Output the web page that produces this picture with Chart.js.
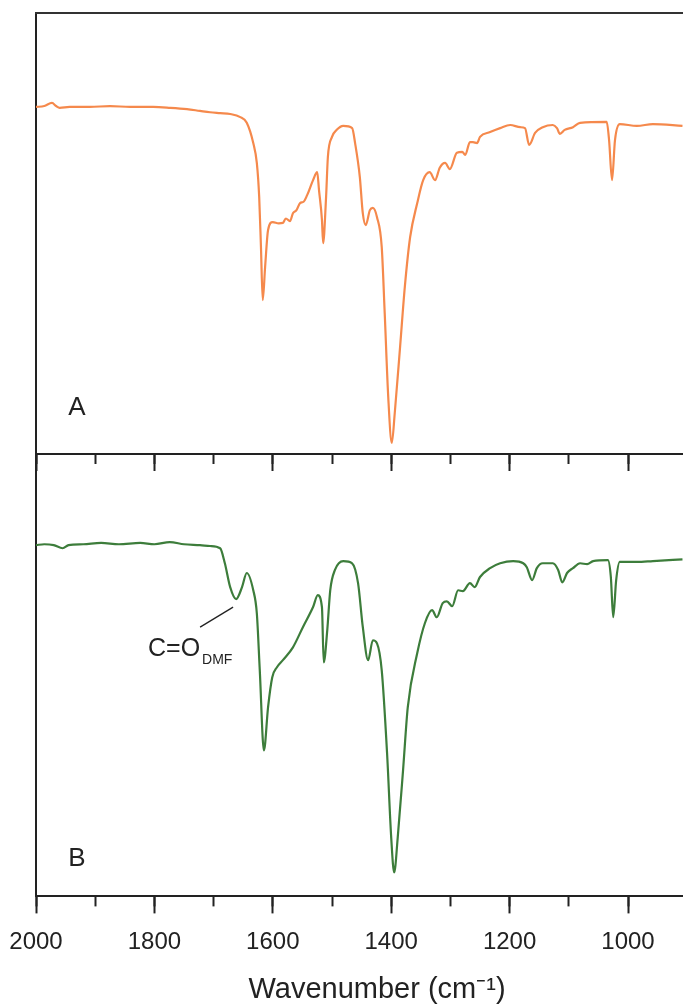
<!DOCTYPE html>
<html>
<head>
<meta charset="utf-8">
<script src="https://cdn.jsdelivr.net/npm/chart.js@4.4.1/dist/chart.umd.min.js"></script>
<style>
  html, body { margin: 0; padding: 0; background: #fff; }
  #wrap { position: relative; width: 683px; height: 1007px; overflow: hidden; }
  canvas { position: absolute; left: 0; }
  #specA { top: 0; }
  #specB { top: 441px; }
</style>
</head>
<body>
<div id="wrap">
  <canvas id="specB" width="720" height="566"></canvas>
  <canvas id="specA" width="720" height="480"></canvas>
</div>
<script>
// IR spectra, relative transmittance (arbitrary units, 0–100) vs wavenumber (cm-1)

// Spectrum A
const wavenumberA = [
  2000, 1986, 1973, 1966, 1960, 1943, 1909, 1875, 1841, 1802, 1773, 1745, 1723, 1706, 1689, 1672,
  1655, 1644, 1633, 1627, 1623, 1620, 1617, 1613, 1608, 1600, 1590, 1583, 1578, 1571, 1566, 1560,
  1554, 1548, 1542, 1532, 1525, 1522, 1517, 1515, 1510, 1507, 1500, 1492, 1481, 1466, 1461, 1453,
  1448, 1443, 1436, 1431, 1424, 1416, 1411, 1405, 1399, 1394, 1385, 1377, 1368, 1356, 1346, 1335,
  1326, 1318, 1309, 1301, 1289, 1280, 1275, 1267, 1262, 1255, 1250, 1233, 1216, 1199, 1182, 1174,
  1167, 1157, 1144, 1127, 1120, 1115, 1107, 1093, 1081, 1036, 1032, 1027, 1022, 1014, 985, 958, 908
];
const signalA = [
  78.7, 78.9, 79.6, 78.9, 78.5, 78.7, 78.7, 78.9, 78.7, 78.7, 78.5, 78.2, 77.8, 77.5, 77.3, 77.1,
  76.4, 75.1, 70.5, 66.0, 58.3, 46.9, 34.9, 42.4, 50.8, 52.6, 52.3, 52.4, 53.4, 52.8, 54.6, 55.3,
  56.9, 57.2, 58.7, 62.1, 63.9, 59.9, 53.1, 47.8, 58.3, 67.3, 71.9, 73.5, 74.4, 73.9, 70.5, 62.8,
  54.6, 51.9, 55.3, 55.8, 53.7, 46.9, 32.0, 12.9, 2.5, 9.3, 24.3, 37.9, 49.2, 56.9, 62.1, 63.9,
  62.1, 64.9, 66.0, 64.6, 68.3, 68.5, 67.8, 70.7, 70.7, 70.5, 71.9, 73.0, 73.9, 74.6, 74.1, 73.9,
  70.1, 72.8, 74.1, 74.6, 73.9, 72.6, 73.5, 74.1, 75.1, 75.3, 71.2, 62.1, 71.2, 74.8, 74.4, 74.8, 74.4
];

// Spectrum B
const wavenumberB = [
  2000, 1986, 1970, 1955, 1945, 1920, 1890, 1860, 1824, 1800, 1774, 1750, 1723, 1706, 1689, 1681,
  1672, 1662, 1652, 1644, 1633, 1627, 1622, 1615, 1608, 1601, 1593, 1583, 1566, 1549, 1532, 1524,
  1517, 1514, 1508, 1503, 1495, 1481, 1466, 1456, 1448, 1439, 1431, 1424, 1416, 1407, 1400, 1395,
  1389, 1380, 1372, 1356, 1343, 1331, 1323, 1313, 1306, 1297, 1287, 1279, 1267, 1259, 1250, 1233,
  1216, 1194, 1177, 1171, 1162, 1154, 1144, 1127, 1118, 1111, 1103, 1093, 1081, 1069, 1059, 1034,
  1029, 1025, 1020, 1014, 985, 958, 908
];
const signalB = [
  79.4, 79.6, 79.4, 78.7, 79.4, 79.6, 79.9, 79.6, 79.9, 79.6, 80.1, 79.6, 79.4, 79.2, 78.7, 75.3,
  69.9, 67.2, 69.9, 73.1, 69.2, 64.0, 51.1, 33.0, 42.8, 49.5, 51.8, 53.4, 56.3, 60.9, 65.4, 68.1,
  65.4, 52.9, 60.2, 69.2, 73.8, 75.8, 75.3, 70.8, 60.9, 53.4, 57.9, 57.2, 51.1, 32.4, 13.3, 5.4,
  13.3, 28.5, 42.8, 55.0, 61.8, 64.7, 63.1, 66.3, 66.7, 65.6, 69.2, 69.0, 70.8, 69.9, 72.2, 74.2,
  75.3, 75.8, 75.3, 74.4, 71.5, 74.2, 75.3, 75.3, 73.8, 71.0, 73.1, 74.2, 75.3, 75.1, 75.8, 76.0,
  72.2, 63.1, 71.5, 75.6, 75.6, 75.8, 76.2
];

// DMF carbonyl band marked in spectrum B
const dmfBand = { wavenumber: 1662, signal: 67.2 };

// Axis range and tick spacing (cm-1)
const wavenumberMax = 2000;
const wavenumberMin = 848;
const majorStep = 200;
const minorStep = 100;

const FONT = '"Liberation Sans", Arial, Helvetica, sans-serif';
const INK = '#222';

function toPoints(xs, ys) {
  return xs.map((x, i) => ({ x: x, y: ys[i] }));
}

// Panel letter in the lower-left corner of the plot area
const panelLetter = {
  id: 'panelLetter',
  afterDatasetsDraw(chart, args, opts) {
    const { ctx, chartArea } = chart;
    ctx.save();
    ctx.font = '26px ' + FONT;
    ctx.fillStyle = INK;
    ctx.textAlign = 'center';
    ctx.textBaseline = 'middle';
    ctx.fillText(opts.text, chartArea.left + opts.dx, chartArea.bottom - opts.dy);
    ctx.restore();
  }
};

// Leader line and label for the DMF carbonyl band
const bandLabel = {
  id: 'bandLabel',
  afterDatasetsDraw(chart, args, opts) {
    if (!opts.enabled) return;
    const { ctx, scales } = chart;
    const px = scales.x.getPixelForValue(dmfBand.wavenumber);
    const py = scales.y.getPixelForValue(dmfBand.signal);
    ctx.save();
    ctx.strokeStyle = INK;
    ctx.lineWidth = 1.3;
    ctx.beginPath();
    ctx.moveTo(px - 3, py + 8);
    ctx.lineTo(px - 36, py + 28);
    ctx.stroke();
    ctx.fillStyle = INK;
    ctx.textBaseline = 'middle';
    ctx.textAlign = 'right';
    ctx.font = '25px ' + FONT;
    ctx.fillText('C=O', px - 36, py + 50);
    ctx.textAlign = 'left';
    ctx.font = '14px ' + FONT;
    ctx.fillText('DMF', px - 34, py + 61);
    ctx.restore();
  }
};

// The end tick labels may overhang the plot box; keep the box fixed instead
function noLabelOverhang(scale) {
  scale.paddingLeft = 0;
  scale.paddingRight = 0;
}

function buildOptions(showLabels, layoutPadding, letter, withBandLabel, drawTopBorder) {
  const scales = {
    x: {
      type: 'linear',
      reverse: true,
      min: wavenumberMin,
      max: wavenumberMax,
      position: 'bottom',
      weight: 1,
      grid: { display: true, drawOnChartArea: false, drawTicks: true, tickLength: 17, tickWidth: 2, tickColor: INK },
      border: { display: true, color: INK, width: 2 },
      ticks: {
        display: showLabels,
        stepSize: majorStep,
        includeBounds: false,
        padding: 15,
        color: INK,
        font: { family: FONT, size: 24 },
        maxRotation: 0,
        autoSkip: false,
        callback: (value) => String(value)
      },
      title: {
        display: showLabels,
        text: 'Wavenumber (cm\u207B\u00B9)',
        color: INK,
        font: { family: FONT, size: 29 },
        padding: { top: 0, bottom: 0 }
      },
      afterFit: noLabelOverhang
    },
    xMinor: {
      type: 'linear',
      reverse: true,
      min: wavenumberMin,
      max: wavenumberMax,
      position: 'bottom',
      weight: 0,
      grid: { display: true, drawOnChartArea: false, drawTicks: true, tickLength: 10, tickWidth: 2, tickColor: INK },
      border: { display: false },
      ticks: { display: false, stepSize: minorStep, includeBounds: false },
      afterFit(scale) { scale.height = 0; noLabelOverhang(scale); }
    },
    y: {
      type: 'linear',
      min: 0,
      max: 100,
      position: 'left',
      grid: { display: false, drawTicks: false },
      border: { display: true, color: INK, width: 2 },
      ticks: { display: false },
      afterFit(scale) { scale.width = 30; }
    }
  };
  if (drawTopBorder) {
    scales.xTop = {
      type: 'linear',
      position: 'top',
      grid: { display: false, drawTicks: false },
      border: { display: true, color: '#333', width: 2 },
      ticks: { display: false }
    };
  }
  return {
    responsive: false,
    animation: false,
    devicePixelRatio: 1,
    layout: { padding: layoutPadding },
    plugins: {
      legend: { display: false },
      tooltip: { enabled: false },
      panelLetter: letter,
      bandLabel: { enabled: withBandLabel }
    },
    scales: scales
  };
}

function lineDataset(xs, ys, color) {
  return {
    data: toPoints(xs, ys),
    borderColor: color,
    borderWidth: 2.2,
    pointRadius: 0,
    fill: false,
    cubicInterpolationMode: 'monotone',
    xAxisID: 'x',
    yAxisID: 'y'
  };
}

new Chart(document.getElementById('specA'), {
  type: 'line',
  data: { datasets: [lineDataset(wavenumberA, signalA, '#f5894c')] },
  options: buildOptions(false, { top: 13, left: 6, right: 2, bottom: 9 }, { text: 'A', dx: 41, dy: 46 }, false, true),
  plugins: [panelLetter, bandLabel]
});

new Chart(document.getElementById('specB'), {
  type: 'line',
  data: { datasets: [lineDataset(wavenumberB, signalB, '#3d7d3b')] },
  options: buildOptions(true, { top: 13, left: 6, right: 2, bottom: 0 }, { text: 'B', dx: 41, dy: 38 }, true, false),
  plugins: [panelLetter, bandLabel]
});
</script>
</body>
</html>
